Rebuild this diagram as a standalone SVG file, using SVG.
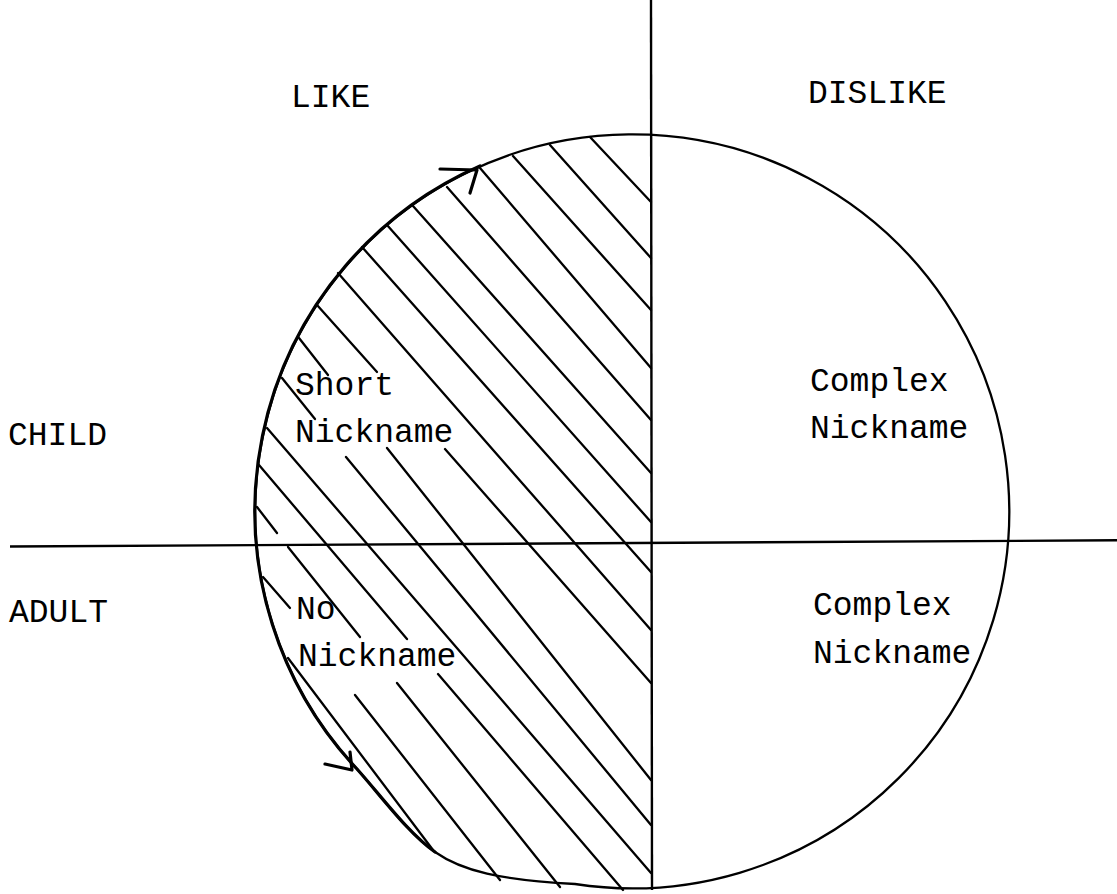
<svg xmlns="http://www.w3.org/2000/svg" width="1117" height="894" viewBox="0 0 1117 894">
<style>
.t{font-family:"Liberation Mono","Courier New",monospace;font-size:33px;fill:#000}
.ln{fill:none;stroke:#000;stroke-width:2.3;stroke-linecap:round}
.ax{fill:none;stroke:#000;stroke-width:2.4}
.hv{fill:none;stroke:#000;stroke-width:3.2;stroke-linecap:round;stroke-linejoin:round}
</style>
<rect width="1117" height="894" fill="#fff"/>
<g id="connectors">
  <line id="axis-v" class="ax" x1="651" y1="0" x2="652" y2="890"/>
  <line id="axis-h" class="ax" x1="10" y1="546.5" x2="1117" y2="540.3"/>
  <path id="circle" class="ln" d="M575,884 A377,377 0 1 0 357,769 C382,797 408,833 435,852 S500,880 575,884"/>
  <path id="circle-left-heavy" class="hv" d="M480,166 A377,377 0 0 0 357,769 C382,797 408,833 435,852"/>
  <polyline id="arrow-top" class="hv" points="440,169 477,170 470,193"/>
  <polyline id="arrow-bottom" class="hv" points="325,764 352,770 350,752"/>
</g>
<g id="hatching" class="ln">
  <line x1="590" y1="137" x2="651" y2="202"/>
  <line x1="550" y1="145" x2="651" y2="258"/>
  <line x1="513" y1="156" x2="651" y2="310"/>
  <line x1="480" y1="168" x2="651" y2="368"/>
  <line x1="447" y1="187" x2="651" y2="420"/>
  <line x1="413" y1="206" x2="651" y2="473"/>
  <line x1="387" y1="225" x2="651" y2="522"/>
  <line x1="362" y1="247" x2="651" y2="572"/>
  <line x1="338" y1="273" x2="651" y2="630"/>
  <line x1="317" y1="305" x2="377" y2="372"/>
  <line x1="445" y1="449" x2="651" y2="683"/>
  <line x1="299" y1="338" x2="328" y2="375"/>
  <line x1="387" y1="448" x2="651" y2="780"/>
  <line x1="282" y1="378" x2="315" y2="419"/>
  <line x1="346" y1="457" x2="651" y2="825"/>
  <line x1="267" y1="428" x2="651" y2="873"/>
  <line x1="259" y1="465" x2="407" y2="639"/>
  <line x1="438" y1="674" x2="623" y2="890"/>
  <line x1="257" y1="507" x2="277" y2="533"/>
  <line x1="288" y1="547" x2="360" y2="637"/>
  <line x1="397" y1="683" x2="560" y2="887"/>
  <line x1="263" y1="577" x2="290" y2="608"/>
  <line x1="355" y1="695" x2="500" y2="880"/>
  <line x1="288" y1="658" x2="433" y2="850"/>
</g>
<g id="label-like"><text class="t" x="291" y="107">LIKE</text></g>
<g id="label-dislike"><text class="t" x="808" y="103">DISLIKE</text></g>
<g id="label-child"><text class="t" x="8" y="445">CHILD</text></g>
<g id="label-adult"><text class="t" x="9" y="622">ADULT</text></g>
<g id="node-short"><text class="t" x="295" y="395">Short</text><text class="t" x="295" y="442">Nickname</text></g>
<g id="node-no"><text class="t" x="296" y="619">No</text><text class="t" x="298" y="666">Nickname</text></g>
<g id="node-complex-child"><text class="t" x="810" y="391">Complex</text><text class="t" x="810" y="438">Nickname</text></g>
<g id="node-complex-adult"><text class="t" x="813" y="615">Complex</text><text class="t" x="813" y="663">Nickname</text></g>
</svg>
